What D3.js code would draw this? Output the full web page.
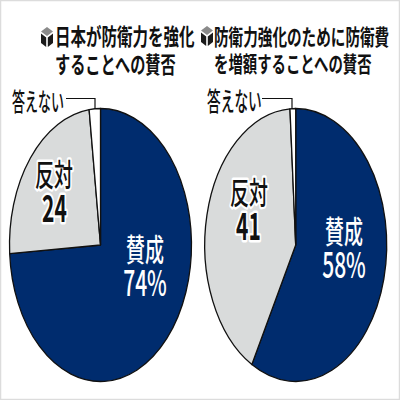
<!DOCTYPE html>
<html><head><meta charset="utf-8">
<script src="https://cdn.jsdelivr.net/npm/d3@7"></script>
<style>html,body{margin:0;padding:0;background:#fff}svg{display:block}text{font-family:"Noto Sans CJK JP"}</style>
</head><body><svg id="c" width="400" height="400"></svg>
<script>
const sliceKeys = ["賛成","反対","答えない"];
const valuesLeft = [74,24,2];
const valuesRight = [58,41,1];
const titleLeft = ["日本が防衛力を強化","することへの賛否"];
const titleRight = ["防衛力強化のために防衛費","を増額することへの賛否"];
const colors = ["#002c6e","#d9dbdb","#ffffff"];
const svg = d3.select("#c");
svg.append("rect").attr("width",400).attr("height",400).attr("fill","#fff");
svg.append("rect").attr("x",0.5).attr("y",0.5).attr("width",399).attr("height",399).attr("fill","none").attr("stroke","#dcdcdc").attr("stroke-width",1.5);
function stretched(x,y,sy,str,size,anchor,weight,fill,halo){
  const t = svg.append("text").attr("transform",`translate(${x},${y}) scale(1,${sy})`)
    .attr("text-anchor",anchor).attr("font-size",size).attr("font-weight",weight).attr("fill",fill).text(str);
  if(halo) t.attr("stroke","#fff").attr("stroke-width",3).attr("paint-order","stroke").attr("stroke-linejoin","round");
  return t;
}
function cube(x,y){
  const g = svg.append("g").attr("transform",`translate(${x},${y})`);
  g.append("path").attr("d","M0,-10L6,-5.5L0,-1L-6,-5.5Z").attr("fill","#8a8a8a");
  g.append("path").attr("d","M-6,-3.5L-0.8,0.5V10L-6,6Z").attr("fill","#1a1a1a");
  g.append("path").attr("d","M6,-3.5L0.8,0.5V10L6,6Z").attr("fill","#1a1a1a");
}
function pie(cx,cy,rx,ry,vals){
  const g = svg.append("g").attr("transform",`translate(${cx},${cy}) scale(${rx},${ry})`);
  const arcs = d3.pie().sort(null).value(d=>d)(vals);
  const arc = d3.arc().innerRadius(0).outerRadius(1);
  g.selectAll("path").data(arcs).join("path")
    .attr("d",arc).attr("fill",(d,i)=>colors[i])
    .attr("stroke","#111").attr("stroke-width",1.3).attr("vector-effect","non-scaling-stroke").attr("stroke-linejoin","round");
}
pie(100.5,245,91,136.5,valuesLeft);
pie(295.7,245,91,136.5,valuesRight);
cube(47,37);cube(207,36);
stretched(55,44.5,1.5,titleLeft[0],15.5,"start",700,"#111");
stretched(55,72.5,1.5,titleLeft[1],15.2,"start",700,"#111");
stretched(214,44.5,1.5,titleRight[0],14.6,"start",700,"#111");
stretched(214,72,1.5,titleRight[1],14.4,"start",700,"#111");
// leader lines
svg.append("path").attr("d","M66,98.5H95V109").attr("fill","none").attr("stroke","#111").attr("stroke-width",1.2);
svg.append("path").attr("d","M262,98.5H292V109").attr("fill","none").attr("stroke","#111").attr("stroke-width",1.2);
// labels
stretched(12,111,1.9,sliceKeys[2],13,"start",500,"#111");
stretched(207,111,1.9,sliceKeys[2],13.7,"start",500,"#111");
stretched(54,185.5,1.6,sliceKeys[1],19,"middle",500,"#111",true);
stretched(54.5,222,1.75,String(valuesLeft[1]),21,"middle",700,"#111",true);
stretched(145,261,1.6,sliceKeys[0],19,"middle",500,"#fff");
stretched(145,296,1.7,valuesLeft[0]+"%",21,"middle",500,"#fff");
stretched(249,203.5,1.6,sliceKeys[1],19,"middle",500,"#111",true);
stretched(248.5,240,1.75,String(valuesRight[1]),21,"middle",700,"#111",true);
stretched(344,243,1.6,sliceKeys[0],19,"middle",500,"#fff");
stretched(344,278,1.7,valuesRight[0]+"%",21,"middle",500,"#fff");
</script></body></html>
